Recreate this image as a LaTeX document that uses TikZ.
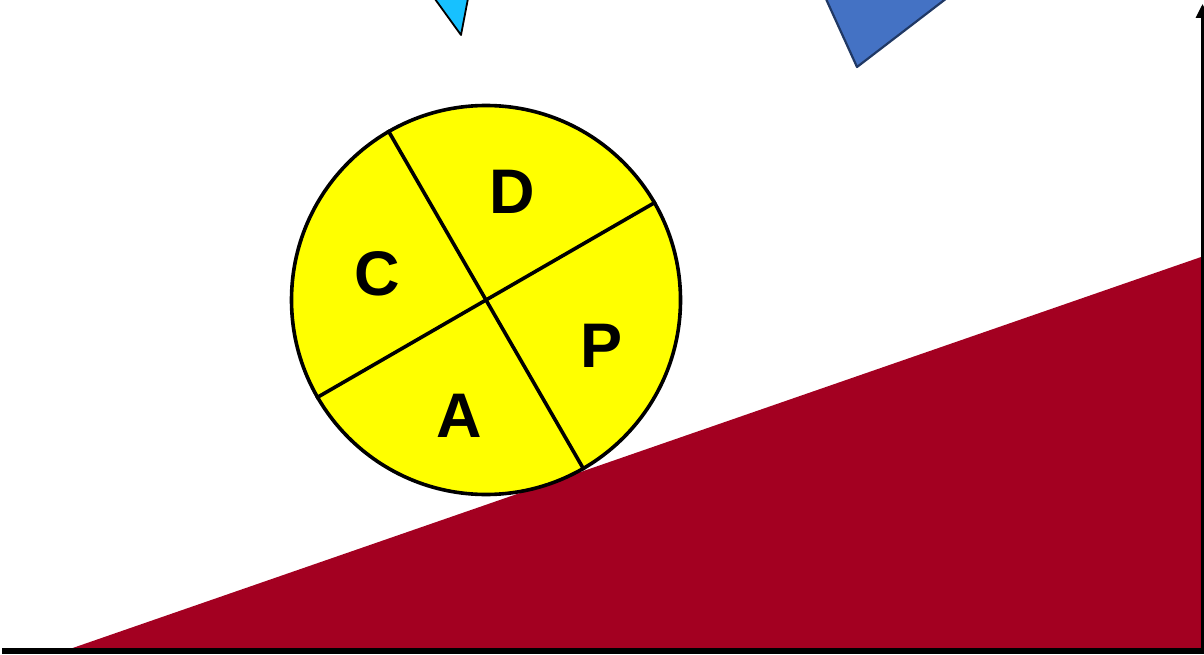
\documentclass[tikz,border=0pt]{standalone}
\usepackage{fontspec}
\setmainfont{Liberation Sans}
\usetikzlibrary{arrows.meta}
\definecolor{slopered}{RGB}{163,0,33}
\definecolor{wheelyellow}{RGB}{255,255,0}
\definecolor{skyblue}{RGB}{23,193,255}
\definecolor{midblue}{RGB}{68,114,196}
\definecolor{navyline}{RGB}{32,56,100}
\tikzset{
  letter/.style={font=\fontsize{63}{63}\selectfont\bfseries, inner sep=0pt, anchor=center},
  divider/.style={line width=3.6pt, black},
}
\begin{document}
\begin{tikzpicture}[x=1pt,y=-1pt]
\useasboundingbox (0,0) rectangle (1204,655);
% falling triangles
\draw[fill=skyblue, draw=black, line width=1.8pt, line join=round] (427,-12) -- (470,-12) -- (461,35) -- cycle;
\draw[fill=midblue, draw=navyline, line width=2.2pt, line join=round] (821,-12) -- (960,-12) -- (857,67) -- cycle;
% slope
\fill[slopered] (64,651) -- (1204,256) -- (1204,651) -- cycle;
% axes
\coordinate (o) at (2,650.5);
\coordinate (br) at (1204,650.5);
\coordinate (vb) at (1202.5,650.5);
\coordinate (vt) at (1202.5,4);
\draw[line width=6pt] (o) -- (br);
\draw[line width=3pt, -{Triangle[length=14pt,width=13pt]}] (vb) -- (vt);
% wheel
\node[circle, draw=black, line width=3.6pt, fill=wheelyellow, minimum size=389pt, inner sep=0pt] (wheel) at (486,300) {};
\draw[divider] (wheel.120) -- (wheel.-60);
\draw[divider] (wheel.210) -- (wheel.30);
\node[letter] (D) at (512,192) {D};
\node[letter] (C) at (377,274) {C};
\node[letter] (P) at (602,346) {P};
\node[letter] (A) at (459,416) {A};
\end{tikzpicture}
\end{document}
